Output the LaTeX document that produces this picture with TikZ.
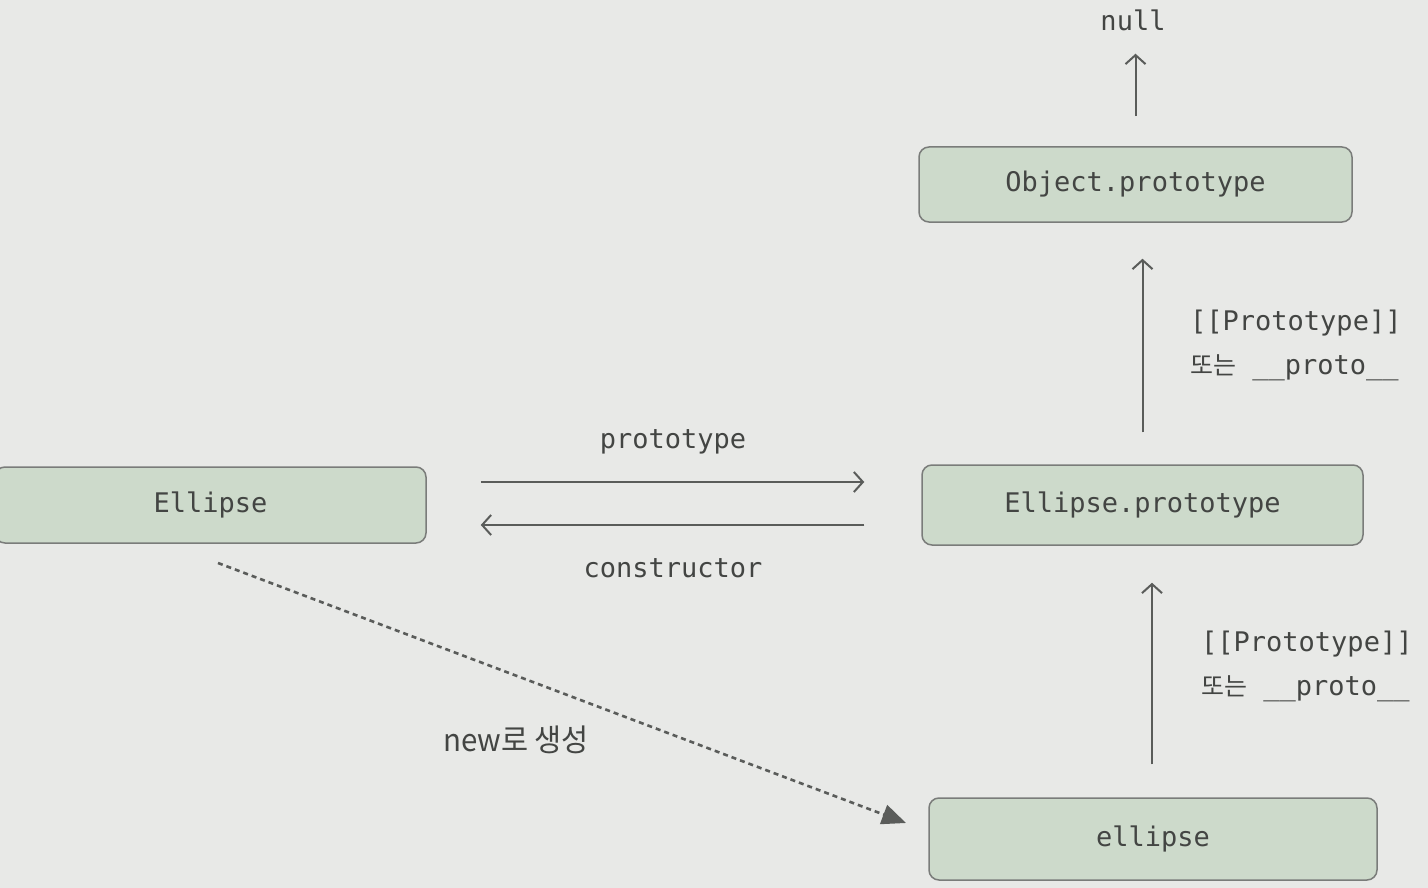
\documentclass[tikz,border=0pt]{standalone}
\usepackage{fontspec}
\setmonofont{DejaVu Sans Mono}
\newfontfamily\krfont{Noto Sans CJK KR}
\usetikzlibrary{arrows.meta,calc}
\definecolor{bgc}{HTML}{E8E9E7}
\definecolor{boxfill}{HTML}{CDDACB}
\definecolor{boxline}{HTML}{7A7C7A}
\definecolor{txt}{HTML}{434543}
\definecolor{arr}{HTML}{5A5C5A}
\begin{document}
\begin{tikzpicture}[x=1pt,y=-1pt,
  objbox/.style={draw=boxline,line width=1.5pt,fill=boxfill,rounded corners=10pt,
     text=txt,font=\ttfamily\fontsize{27}{30}\selectfont,inner sep=0pt},
  lbl/.style={text=txt,font=\ttfamily\fontsize{27}{30}\selectfont,inner sep=0pt},
  krlbl/.style={text=txt,font=\ttfamily\fontsize{27}{44}\selectfont,inner sep=0pt,align=left},
  link/.style={draw=arr,line width=2pt,-{Straight Barb[length=9pt,width=20pt,line width=2pt]}},
  newlink/.style={draw=arr,line width=2.6pt,dash pattern=on 5pt off 4pt,
     -{Triangle[length=24pt,width=20pt,fill=arr]}}]
\fill[bgc] (0,0) rectangle (1428,888);
\useasboundingbox (0,0) rectangle (1428,888);

\node[objbox,minimum width=433pt,minimum height=75pt] (OP) at (1135.5,184.5) {Object.prototype};
\node[objbox,minimum width=441pt,minimum height=80pt] (EP) at (1142.5,505) {Ellipse.prototype};
\node[objbox,minimum width=431pt,minimum height=76pt] (E) at (210.5,505) {Ellipse};
\node[objbox,minimum width=448pt,minimum height=82pt] (e) at (1153,839) {ellipse};

\node[lbl] (null) at (1133,20) {null};

% arrows
\draw[link,shorten <=30pt,shorten >=23pt] (OP.north) -- (OP.north |- null.south);
\draw[link,shorten <=32pt,shorten >=36pt] (EP.north) -- (EP.north |- OP.south);
\draw[link,shorten <=33pt,shorten >=37pt] ([xshift=-1pt]e.north) -- ([xshift=-1pt]e.north |- EP.south);

\draw[link,shorten <=54pt,shorten >=57pt] ([yshift=23pt]E.east) -- ([yshift=23pt]E.east -| EP.west);
\draw[link,shorten <=57pt,shorten >=54pt] ([yshift=-20pt]EP.west) -- ([yshift=-20pt]EP.west -| E.east);

\node[lbl] (lproto) at (673,442) {prototype};
\node[lbl] (lcons) at (673,568) {constructor};

\node[krlbl,anchor=west] (l1) at (1190,345) {[[Prototype]]\\{\krfont\fontsize{25}{30}\selectfont 또는} \_\_proto\_\_};
\node[krlbl,anchor=west] (l2) at (1201,666) {[[Prototype]]\\{\krfont\fontsize{25}{30}\selectfont 또는} \_\_proto\_\_};

\coordinate (ds) at (218,563);
\coordinate (de) at (906,823);
\draw[newlink] (ds) -- (de);
\node[text=txt,inner sep=0pt,font=\krfont\fontsize{31}{34}\selectfont] (lnew) at (516,740) {\addfontfeature{FakeStretch=0.95}new로 생성};
\end{tikzpicture}
\end{document}
